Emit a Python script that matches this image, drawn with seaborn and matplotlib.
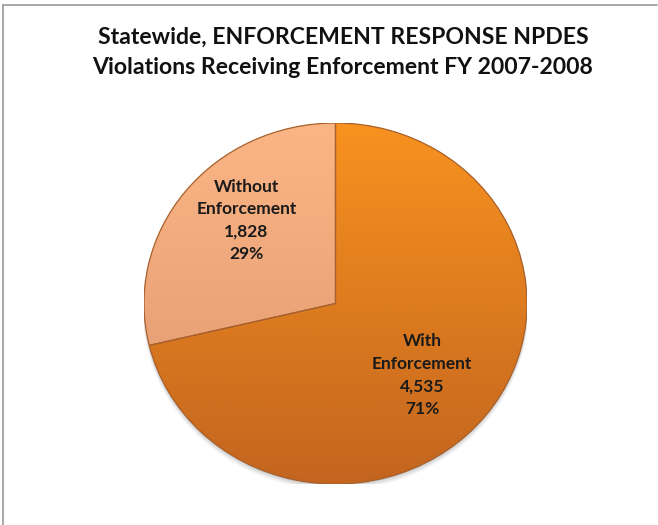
import numpy as np
import matplotlib.pyplot as plt
import matplotlib.colors as mcolors
from matplotlib.lines import Line2D
from matplotlib.patches import Wedge, Ellipse
import seaborn as sns

title = "Statewide, ENFORCEMENT RESPONSE NPDES\nViolations Receiving Enforcement FY 2007-2008"
categories = ["Without\nEnforcement", "With\nEnforcement"]
counts = [1828, 4535]

# top / bottom shades of each slice (the original uses a vertical gradient)
top_colors = ["#FBB585", "#F8921F"]
bottom_colors = ["#DE966E", "#C3651F"]
# where each label sits, as a fraction of the pie radius
label_pos = [(-0.465, 0.46), (0.452, -0.396)]

sns.set_theme(style="white")
plt.rcParams['font.family'] = ['Lato', 'DejaVu Sans']

fig = plt.figure(figsize=(6.58, 5.25), dpi=100)
W, H = 658, 525
# the original pie is slightly wider than tall
cx, cy, rx, ry = 335.5, 303.5, 191.5, 180.5
ax = fig.add_axes([(cx - rx) / W, (H - cy - ry) / H, 2 * rx / W, 2 * ry / H])

total = sum(counts)
wedges, texts, autotexts = ax.pie(
    counts, startangle=90, counterclock=True, radius=1,
    colors=top_colors, autopct='%1.0f%%', pctdistance=0.65,
    wedgeprops=dict(linewidth=0),
    textprops=dict(fontsize=12.5, fontweight='bold', color='#1a1a1a'),
)
ax.set_aspect('auto')

# soft drop shadow behind the pie
for k, a in enumerate([0.10, 0.08, 0.06]):
    ax.add_patch(Ellipse((0.0, -0.008 * (k + 1)), 2.0 + 0.008 * k, 2.0 + 0.008 * k,
                         color='#000000', alpha=a, zorder=0, lw=0))

# vertical gradient clipped to each wedge
ys = np.linspace(1, 0, 256).reshape(-1, 1)
for w, c_top, c_bot in zip(wedges, top_colors, bottom_colors):
    t = np.array(mcolors.to_rgb(c_top))
    b = np.array(mcolors.to_rgb(c_bot))
    grad = ys[..., None] * t + (1 - ys)[..., None] * b
    grad = np.repeat(grad, 2, axis=1)
    im = ax.imshow(grad, extent=[-1, 1, -1, 1], origin='upper', aspect='auto', zorder=1.5)
    im.set_clip_path(w)
    w.set_zorder(1)
    ax.add_patch(Wedge(w.center, w.r, w.theta1, w.theta2, fill=False,
                       edgecolor="#A8612C", linewidth=0.9, zorder=2))

for at, name, n, pos in zip(autotexts, categories, counts, label_pos):
    at.set_text(f"{name}\n{n:,}\n{round(n / total * 100)}%")
    at.set_position(pos)
    at.set_linespacing(1.5)
    at.set_zorder(3)

ax.set_xlim(-1, 1)
ax.set_ylim(-1, 1)
ax.axis('off')

fig.text(0.521, 0.9, title, ha='center', va='center', fontsize=16.6, fontweight='bold',
         color='#111111', linespacing=1.55)

# frame lines of the original chart area
fig.add_artist(Line2D([3 / W, 657 / W], [1 - 5 / H, 1 - 5 / H], color='#9a9a9a', lw=1.2))
fig.add_artist(Line2D([3 / W, 3 / W], [0, 1 - 5 / H], color='#9a9a9a', lw=1.2))

fig.savefig("out.png", dpi=100)
